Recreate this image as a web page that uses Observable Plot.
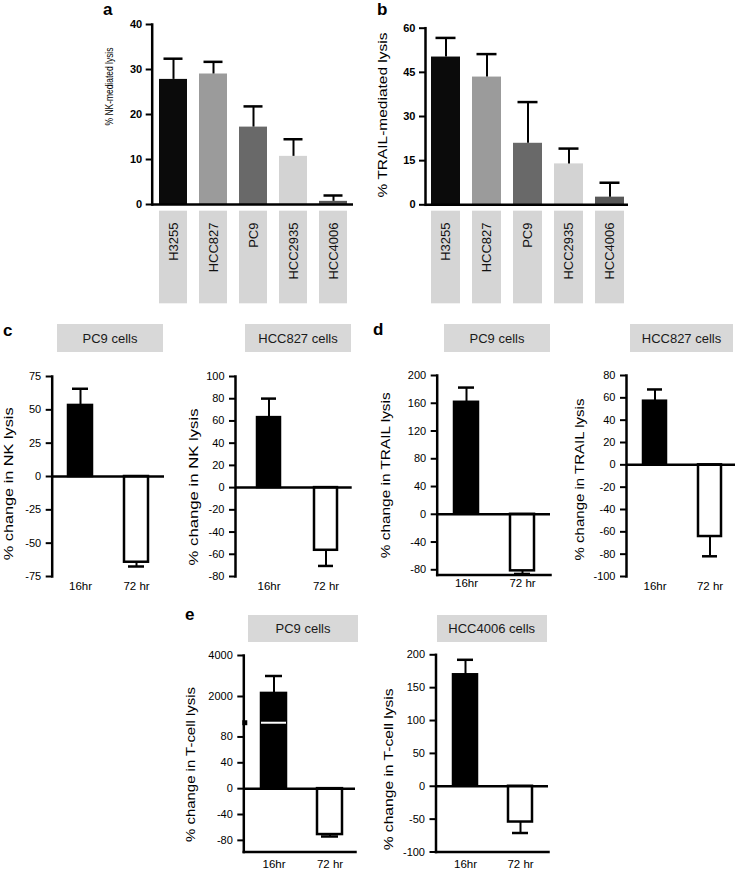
<!DOCTYPE html>
<html><head><meta charset="utf-8">
<script src="https://cdn.jsdelivr.net/npm/d3@7"></script>
<script src="https://cdn.jsdelivr.net/npm/@observablehq/plot@0.6"></script>
<style>
body{margin:0;background:#fff;}
#root{position:relative;width:739px;height:871px;overflow:hidden;font-family:"Liberation Sans",Arial,sans-serif;background:#fff;}
.hdr{position:absolute;background:#d8d8d8;display:flex;align-items:center;justify-content:center;font-size:13px;color:#1a1a1a;}
.lett{position:absolute;font-weight:bold;font-size:17px;line-height:17px;color:#000;}
</style></head><body><div id="root"></div>
<script>
// ---------- data ----------
const cellLines = ["H3255", "HCC827", "PC9", "HCC2935", "HCC4006"];
const nkLysis = [27.8, 29.0, 17.2, 10.7, 0.7];
const nkLysisErr = [32.4, 31.7, 21.8, 14.5, 2.0];
const trailLysis = [50.2, 43.4, 20.9, 13.9, 2.6];
const trailLysisErr = [56.7, 51.2, 34.9, 19.1, 7.5];
const nkTicks = [0, 10, 20, 30, 40];
const trailTicks = [0, 15, 30, 45, 60];

const timePoints = ["16hr", "72 hr"];
const nkChangePC9 = [53.3, -64.3];
const nkChangePC9Err = [65.8, -67.5];
const nkChangeHCC827 = [63.0, -56.4];
const nkChangeHCC827Err = [80.1, -70.5];
const trailChangePC9 = [161.4, -81.5];
const trailChangePC9Err = [182.6, -86.0];
const trailChangeHCC827 = [57.0, -64.2];
const trailChangeHCC827Err = [67.5, -81.9];
const tcellChangePC9 = [2150, -71];
const tcellChangePC9Err = [3000, -74];
const tcellChangeHCC4006 = [169.6, -54.4];
const tcellChangeHCC4006Err = [192.4, -71.1];

const nkPC9Ticks = [-75, -50, -25, 0, 25, 50, 75];
const nkHCC827Ticks = [-80, -60, -40, -20, 0, 20, 40, 60, 80, 100];
const trailPC9Ticks = [-80, -40, 0, 40, 80, 120, 160, 200];
const trailHCC827Ticks = [-100, -80, -60, -40, -20, 0, 20, 40, 60, 80];
const tcellPC9Ticks = [-80, -40, 0, 40, 80, 2000, 4000];
const tcellHCC4006Ticks = [-100, -50, 0, 50, 100, 150, 200];
// broken axis of panel e (PC9): lower segment ends at 102, upper segment resumes at 720
const axisBreakLow = 102;
const axisBreakHigh = 720;

// ---------- styles ----------
const cellLineGrays = ["#0b0b0b", "#9b9b9b", "#696969", "#d3d3d3", "#585858"];
const timeFills = ["#000000", "#ffffff"];
const SANS = '"Liberation Sans", Arial, Helvetica, sans-serif';
const NARROW = '"Liberation Sans Narrow", "Arial Narrow", "Liberation Sans", sans-serif';

const root = document.getElementById("root");
function place(node, left, top) {
  node.style.position = "absolute";
  node.style.left = left + "px";
  node.style.top = top + "px";
  root.appendChild(node);
}
// stretch or compress a rotated axis title along its baseline to the reference length
function fitLabel(svg, label, length) {
  if (!length) return;
  svg.querySelectorAll("text").forEach(t => {
    if (t.textContent === label) {
      const natural = t.getComputedTextLength();
      if (natural > 0) {
        const tr = t.getAttribute("transform") || "";
        t.setAttribute("transform", tr + ` scale(${(length / natural).toFixed(4)},1)`);
      }
    }
  });
}
function baseStyle(font, size, weight) {
  return {background: "transparent", overflow: "visible", color: "#000", fontFamily: font, fontSize: size + "px", fontWeight: weight};
}

// ---------- panels a / b ----------
function lysisPanel(L, values, errs, ticks, label) {
  const data = cellLines.map((c, i) => ({c, v: values[i], e: errs[i]}));
  return Plot.plot({
    width: L.width, height: L.height,
    marginLeft: L.ml, marginRight: L.mr, marginTop: L.mt, marginBottom: L.mb,
    style: baseStyle(NARROW, 11, "bold"),
    x: {domain: cellLines, paddingInner: L.pi, paddingOuter: L.po, align: L.align, axis: null},
    y: {domain: [ticks[0], ticks[ticks.length - 1]]},
    color: {domain: cellLines, range: cellLineGrays},
    marks: [
      Plot.barY(data, {x: "c", y: "v", fill: "c"}),
      Plot.ruleX(data, {x: "c", y1: "v", y2: "e", stroke: "#000", strokeWidth: 2}),
      Plot.tickY(data, {x: "c", y: "e", stroke: "#000", strokeWidth: 2.5, inset: 4.5}),
      Plot.ruleY([0], {stroke: "#000", strokeWidth: 2.5}),
      Plot.frame({anchor: "left", stroke: "#000", strokeWidth: 2.5}),
      Plot.axisY({ticks, tickSize: 6, tickPadding: 4, strokeWidth: 2, label: null, tickFormat: d => String(d), fontWeight: "bold", fontFamily: NARROW, fontSize: 11}),
      Plot.text([label], {text: d => d, frameAnchor: "left", rotate: -90, dx: L.ldx, dy: L.ldy, fontSize: L.lfs, fontWeight: "normal", fontFamily: SANS, textAnchor: "middle", lineAnchor: "middle"})
    ]
  });
}
function labelBoxes(L) {
  return Plot.plot({
    width: L.width, height: L.height,
    marginLeft: L.ml, marginRight: L.mr, marginTop: L.mt, marginBottom: L.mb,
    style: baseStyle(SANS, 13, "normal"),
    x: {domain: cellLines, paddingInner: L.pi, paddingOuter: L.po, align: L.align, axis: null},
    y: {domain: [0, 1], axis: null},
    marks: [
      Plot.barY(cellLines, {x: d => d, y1: 0, y2: 1, fill: "#d5d5d5"}),
      Plot.text(cellLines, {x: d => d, y: 1, text: d => d, rotate: -90, textAnchor: "end", lineAnchor: "middle", dy: 11.3, fontSize: 13, fill: "#111"})
    ]
  });
}

const layoutA = {width: 265, height: 208, ml: 56.7, mr: 7, mt: 24, mb: 4, pi: 0.288, po: 0.114, align: 0.54,
  ldx: -42.7, ldy: -28, lfs: 11, llen: 78};
const layoutABox = {width: 265, height: 97, ml: 56.7, mr: 7, mt: 2.7, mb: 1.7, pi: 0.288, po: 0.114, align: 0.54};
const layoutB = {width: 265, height: 208, ml: 55, mr: 7, mt: 27.7, mb: 3.7, pi: 0.289, po: 0.09, align: 0.6,
  ldx: -43, ldy: -1.5, lfs: 13, llen: 165};
const layoutBBox = {width: 265, height: 97, ml: 55, mr: 7, mt: 2.7, mb: 1.7, pi: 0.289, po: 0.09, align: 0.6};

const panelA = lysisPanel(layoutA, nkLysis, nkLysisErr, nkTicks, "% NK-mediated lysis");
place(panelA, 95, 0);
fitLabel(panelA, "% NK-mediated lysis", layoutA.llen);
place(labelBoxes(layoutABox), 95, 208);
const panelB = lysisPanel(layoutB, trailLysis, trailLysisErr, trailTicks, "% TRAIL-mediated lysis");
place(panelB, 370, 0);
fitLabel(panelB, "% TRAIL-mediated lysis", layoutB.llen);
place(labelBoxes(layoutBBox), 370, 208);

// ---------- panels c / d / e ----------
function changePanel(L, values, errs, ticks, label) {
  const data = timePoints.map((t, i) => ({t, v: values[i], e: errs[i]}));
  const yTop = ticks[ticks.length - 1];
  const yScale = L.broken
    ? {transform: L.broken, domain: [L.ymin, L.broken(yTop)]}
    : {domain: [L.ymin, yTop]};
  // axis ticks are placed in the scale's (transformed) space, labelled with the original values
  const tickPos = L.broken ? ticks.map(L.broken) : ticks;
  const tickFormat = v => String(ticks[tickPos.indexOf(v)]);
  const marks = [
    Plot.barY(data, {x: "t", y: "v", fill: "t", stroke: "#000", strokeWidth: 2.5}),
    Plot.ruleX(data, {x: "t", y1: "v", y2: "e", stroke: "#000", strokeWidth: 2}),
    Plot.tickY(data, {x: "t", y: "e", stroke: "#000", strokeWidth: 2.5, inset: 4}),
  ];
  if (L.broken) {
    marks.push(Plot.tickY([axisBreakLow], {x: () => timePoints[0], y: d => d, stroke: "#fff", strokeWidth: 2}));
    marks.push(Plot.dot([axisBreakLow], {y: d => d, frameAnchor: "left", symbol: "square", r: 2.8, fill: "#000", dx: 1}));
  }
  marks.push(
    Plot.ruleY([0], {stroke: "#000", strokeWidth: 2.5}),
    Plot.frame({anchor: "left", stroke: "#000", strokeWidth: 2.5})
  );
  if (L.bottomLine) marks.push(Plot.frame({anchor: "bottom", stroke: "#000", strokeWidth: 2.5}));
  marks.push(
    Plot.axisY({ticks: tickPos, tickSize: 6, tickPadding: 5, strokeWidth: 2, label: null, tickFormat, fontSize: 11, fontFamily: SANS}),
    Plot.axisX({tickSize: 0, tickPadding: L.xpad, label: null, fontSize: 11.5, fontFamily: SANS}),
    Plot.text([label], {text: d => d, frameAnchor: "left", rotate: -90, dx: L.ldx, dy: L.ldy, fontSize: 13, fontFamily: SANS, textAnchor: "middle", lineAnchor: "middle"})
  );
  return Plot.plot({
    width: L.width, height: L.height,
    marginLeft: L.ml, marginRight: L.mr, marginTop: L.mt, marginBottom: L.mb,
    style: baseStyle(SANS, 11, "normal"),
    x: {domain: timePoints, paddingInner: L.pi, paddingOuter: L.po, align: L.align},
    y: yScale,
    color: {domain: timePoints, range: timeFills},
    marks
  });
}

// compression of the upper segment of the broken T-cell axis
const brokenAxis = v => v <= axisBreakLow ? v : axisBreakLow + (v - axisBreakHigh) * 0.03171;

const layoutC1 = {width: 170, height: 232, ml: 51.7, mr: 6, mt: 8, mb: 24, pi: 0.579, po: 0.275, align: 0.49,
  ymin: -75, xpad: 5, ldx: -43.4, ldy: 7.3, llen: 153};
const layoutC2 = {width: 182, height: 232, ml: 60, mr: 5.3, mt: 8, mb: 24, pi: 0.601, po: 0.312, align: 0.6,
  ymin: -80, xpad: 5, ldx: -42, ldy: 10.5, llen: 157};
const layoutD1 = {width: 190, height: 232, ml: 71.7, mr: 5, mt: 7, mb: 25.5, pi: 0.578, po: 0.285, align: 0.5,
  ymin: -87.5, xpad: 4, bottomLine: true, ldx: -51.7, ldy: 0, llen: 166};
const layoutD2 = {width: 179, height: 232, ml: 66, mr: 4, mt: 7, mb: 24, pi: 0.59, po: 0.284, align: 0.53,
  ymin: -100, xpad: 5, ldx: -47, ldy: 3.5, llen: 162};
const layoutE1 = {width: 187, height: 226, ml: 68.3, mr: 7, mt: 10, mb: 19.5, pi: 0.553, po: 0.259, align: 0.58,
  ymin: -98, broken: brokenAxis,
  xpad: 8, bottomLine: true, ldx: -53.3, ldy: 10.75, llen: 155};
const layoutE2 = {width: 190, height: 226, ml: 70.5, mr: 7, mt: 9.3, mb: 19.5, pi: 0.566, po: 0.303, align: 0.51,
  ymin: -100, xpad: 8, bottomLine: true, ldx: -47.5, ldy: 16, llen: 162};

const changePanels = [
  [layoutC1, nkChangePC9, nkChangePC9Err, nkPC9Ticks, "% change in NK lysis", 0, 368],
  [layoutC2, nkChangeHCC827, nkChangeHCC827Err, nkHCC827Ticks, "% change in NK lysis", 175, 368],
  [layoutD1, trailChangePC9, trailChangePC9Err, trailPC9Ticks, "% change in TRAIL lysis", 365, 368],
  [layoutD2, trailChangeHCC827, trailChangeHCC827Err, trailHCC827Ticks, "% change in TRAIL lysis", 560, 368],
  [layoutE1, tcellChangePC9, tcellChangePC9Err, tcellPC9Ticks, "% change in T-cell lysis", 175, 645],
  [layoutE2, tcellChangeHCC4006, tcellChangeHCC4006Err, tcellHCC4006Ticks, "% change in T-cell lysis", 365, 645]
];
changePanels.forEach(([L, v, e, ticks, label, left, top]) => {
  const svg = changePanel(L, v, e, ticks, label);
  place(svg, left, top);
  fitLabel(svg, label, L.llen);
});

// ---------- headers and panel letters ----------
const headers = [
  ["PC9 cells", 57, 324, 106, 28],
  ["HCC827 cells", 245, 324, 106, 28],
  ["PC9 cells", 444, 324, 106, 28],
  ["HCC827 cells", 630, 324, 103, 28],
  ["PC9 cells", 248, 615, 110, 27],
  ["HCC4006 cells", 436.7, 615, 110, 27]
];
headers.forEach(([txt, x, y, w, h]) => {
  const d = document.createElement("div");
  d.className = "hdr"; d.textContent = txt;
  d.style.left = x + "px"; d.style.top = y + "px"; d.style.width = w + "px"; d.style.height = h + "px";
  root.appendChild(d);
});
const letters = [["a", 103, 15], ["b", 377, 15], ["c", 3, 336], ["d", 373, 335], ["e", 185, 620]];
letters.forEach(([t, x, base]) => {
  const d = document.createElement("div");
  d.className = "lett"; d.textContent = t;
  d.style.left = x + "px"; d.style.top = (base - 14.4) + "px";
  root.appendChild(d);
});
</script></body></html>
